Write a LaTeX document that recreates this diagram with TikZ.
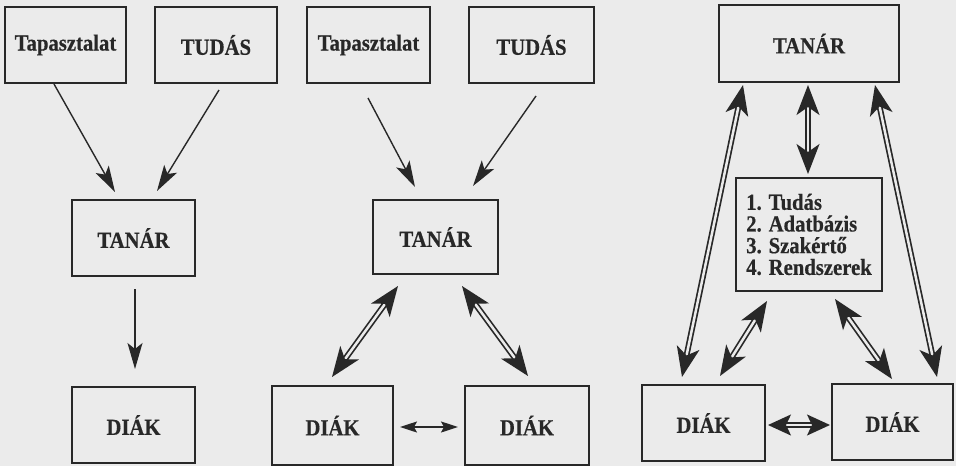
\documentclass[tikz,border=0pt]{standalone}
\usepackage{fontspec}
\setmainfont{Liberation Serif}[FakeStretch=0.9, BoldFeatures={FakeBold=0.5}]
\usetikzlibrary{arrows.meta,calc}
\definecolor{paper}{HTML}{EBEBEB}
\definecolor{ink}{HTML}{282828}
\begin{document}
\begin{tikzpicture}[x=1pt,y=-1pt,
  box/.style={draw=ink, line width=2pt, inner sep=0pt, text=ink,
    font=\fontsize{23}{23.5}\selectfont\bfseries},
  sarrow/.style={draw=ink, line width=1.4pt, -{Stealth[length=26pt,width=15pt,inset=6pt]}},
  darrow/.style={draw=ink, line width=1.7pt, double=paper, double distance=2.5pt,
    {Stealth[length=30pt,width=23pt,inset=8pt]}-{Stealth[length=30pt,width=23pt,inset=8pt]}},
  harrow/.style={draw=ink, line width=1.5pt,
    {Stealth[length=17pt,width=11pt,inset=3pt]}-{Stealth[length=17pt,width=11pt,inset=3pt]}},
  hdarrow/.style={draw=ink, line width=1.7pt, double=paper, double distance=2.6pt,
    {Stealth[length=23pt,width=21pt,inset=5pt]}-{Stealth[length=23pt,width=21pt,inset=5pt]}}]
\fill[paper] (0,0) rectangle (956,466);
\useasboundingbox (0,0) rectangle (956,466);
% Panel 1
\node[box, minimum width=121pt, minimum height=76pt] (t1) at (65.5,45) {Tapasztalat};
\node[box, minimum width=122pt, minimum height=76pt] (u1) at (216,45) {TUDÁS};
\node[box, minimum width=123pt, minimum height=76pt] (n1) at (133.5,238) {TANÁR};
\node[box, minimum width=123pt, minimum height=76pt] (d1) at (133.5,425) {DIÁK};
\draw[sarrow] ($(t1.south)+(-11.5,0)$) -- ($(n1.north)+(-18.5,-7)$);
\draw[sarrow] ($(u1.south)+(3,6)$) -- ($(n1.north)+(23.5,-8)$);
\draw[sarrow] ($(n1.south)+(1.5,12)$) -- ($(d1.north)+(1.5,-17)$);
% Panel 2
\node[box, minimum width=123pt, minimum height=76pt] (t2) at (368.5,45) {Tapasztalat};
\node[box, minimum width=125pt, minimum height=76pt] (u2) at (531.5,45) {TUDÁS};
\node[box, minimum width=125pt, minimum height=74pt] (n2) at (435.5,237) {TANÁR};
\node[box, minimum width=121pt, minimum height=79pt] (d2a) at (332.5,425.5) {DIÁK};
\node[box, minimum width=124pt, minimum height=79pt] (d2b) at (527,425.5) {DIÁK};
\draw[sarrow] ($(t2.south)+(-0.5,14)$) -- ($(n2.north)+(-20.5,-12)$);
\draw[sarrow] ($(u2.south)+(4.5,12)$) -- ($(n2.north)+(37.5,-13)$);
\draw[darrow] ($(n2.south)+(-37.5,11)$) -- ($(d2a.north)+(-0.5,-8)$);
\draw[darrow] ($(n2.south)+(26.5,11)$) -- ($(d2b.north)+(1,-9)$);
\draw[harrow] ($(d2a.east)+(6,1.5)$) -- ($(d2b.west)+(-6,1.5)$);
% Panel 3
\node[box, minimum width=180pt, minimum height=77pt] (n3) at (809,43.5) {TANÁR};
\node[box, minimum width=146pt, minimum height=113pt, align=left,
  font=\fontsize{23}{21.7}\selectfont\bfseries] (l3) at (809,234.5)
  {1. Tudás\\2. Adatbázis\\3. Szakértő\\4. Rendszerek};
\node[box, minimum width=123pt, minimum height=76pt] (d3a) at (703.5,423) {DIÁK};
\node[box, minimum width=121pt, minimum height=76pt] (d3b) at (892.5,422) {DIÁK};
\draw[darrow] ($(n3.south)+(-1,2)$) -- ($(l3.north)+(-1,-3)$);
\draw[darrow] ($(n3.south)+(-66,2)$) -- ($(d3a.north)+(-21.5,-7)$);
\draw[darrow] ($(n3.south)+(66,2)$) -- ($(d3b.north)+(44.5,-6)$);
\draw[darrow] ($(l3.south)+(-42,9)$) -- ($(d3a.north)+(16.5,-8)$);
\draw[darrow] ($(l3.south)+(26,7)$) -- ($(d3b.north)+(-0.5,-4)$);
\draw[hdarrow] ($(d3a.east)+(2,2)$) -- ($(d3b.west)+(-1,3)$);
\end{tikzpicture}
\end{document}
